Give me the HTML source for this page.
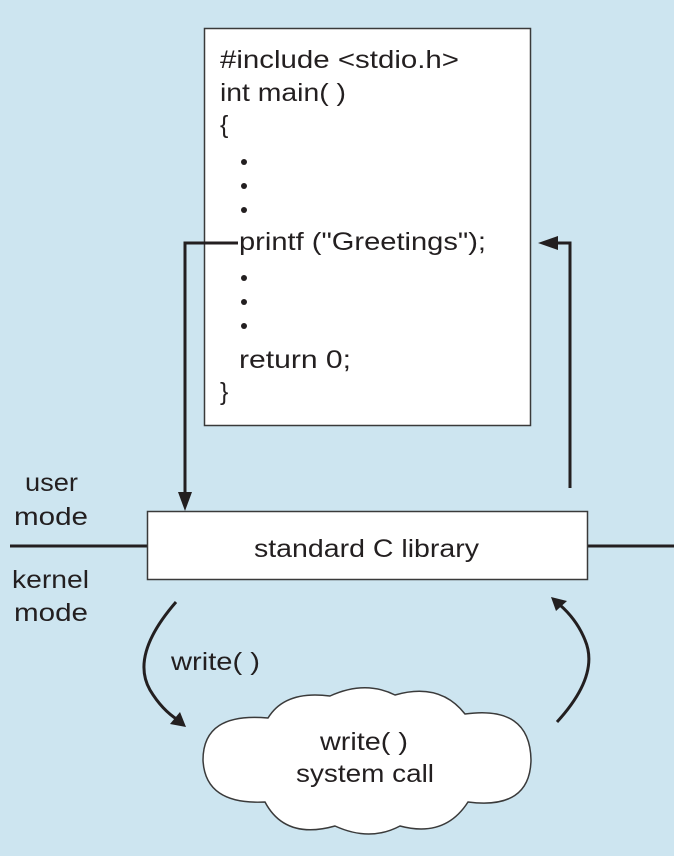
<!DOCTYPE html>
<html><head><meta charset="utf-8"><style>
html,body{margin:0;padding:0;background:#cde5f0;}
svg{display:block;}
text{font-family:"Liberation Sans",sans-serif;fill:#231f20;}
</style></head><body>
<svg width="674" height="856" viewBox="0 0 674 856" xmlns="http://www.w3.org/2000/svg">
<rect x="0" y="0" width="674" height="856" fill="#cde5f0"/>
<!-- code box -->
<rect x="204.5" y="28.5" width="326" height="397" fill="#fff" stroke="#3a3a3a" stroke-width="1.5"/>
<g font-size="25">
<text x="220" y="68" textLength="239" lengthAdjust="spacingAndGlyphs">#include &lt;stdio.h&gt;</text>
<text x="220" y="101" textLength="126" lengthAdjust="spacingAndGlyphs">int main( )</text>
<text x="220" y="133">{</text>
<text x="239" y="250" textLength="247" lengthAdjust="spacingAndGlyphs">printf ("Greetings");</text>
<text x="239" y="368" textLength="112" lengthAdjust="spacingAndGlyphs">return 0;</text>
<text x="220" y="400">}</text>
</g>
<g fill="#231f20">
<circle cx="244" cy="162" r="3"/><circle cx="244" cy="186" r="3"/><circle cx="244" cy="210" r="3"/>
<circle cx="244" cy="278" r="3"/><circle cx="244" cy="302" r="3"/><circle cx="244" cy="326" r="3"/>
</g>
<!-- arrows -->
<path d="M238,243 H185 V494" fill="none" stroke="#231f20" stroke-width="3"/>
<path d="M178,492 L192,492 L185,511 Z" fill="#231f20"/>
<path d="M570,488 V243 H556" fill="none" stroke="#231f20" stroke-width="3"/>
<path d="M558,236 L558,250 L538,243 Z" fill="#231f20"/>
<!-- mode line -->
<line x1="10" y1="546" x2="147" y2="546" stroke="#231f20" stroke-width="3"/>
<line x1="587" y1="546" x2="674" y2="546" stroke="#231f20" stroke-width="3"/>
<rect x="147.5" y="511.5" width="440" height="68" fill="#fff" stroke="#3a3a3a" stroke-width="1.5"/>
<text x="254" y="557" font-size="25" textLength="225" lengthAdjust="spacingAndGlyphs">standard C library</text>
<g font-size="25">
<text x="25" y="491" textLength="53" lengthAdjust="spacingAndGlyphs">user</text>
<text x="14" y="525" textLength="74" lengthAdjust="spacingAndGlyphs">mode</text>
<text x="12" y="588" textLength="77" lengthAdjust="spacingAndGlyphs">kernel</text>
<text x="14" y="621" textLength="74" lengthAdjust="spacingAndGlyphs">mode</text>
<text x="171" y="670" textLength="89" lengthAdjust="spacingAndGlyphs">write( )</text>
</g>
<!-- curved arrows -->
<path d="M176,602 Q130,655 150,690 Q162,710 178,720" fill="none" stroke="#231f20" stroke-width="3"/>
<path d="M170,724 L180,712 L186,727 Z" fill="#231f20"/>
<path d="M557,722 Q600,675 585,640 Q577,620 560,605" fill="none" stroke="#231f20" stroke-width="3"/>
<path d="M551,597 L567,601 L556,611 Z" fill="#231f20"/>
<!-- cloud -->
<path d="M268,718 Q285,690 330,696 Q365,680 395,695 Q440,682 465,714 Q530,705 531,760 Q530,810 468,802 Q445,838 400,826 Q370,842 335,826 Q285,840 265,802 Q205,805 203,760 Q203,712 268,718 Z" fill="#fff" stroke="#3a3a3a" stroke-width="1.5"/>
<g font-size="25">
<text x="320" y="750" textLength="88" lengthAdjust="spacingAndGlyphs">write( )</text>
<text x="296" y="782" textLength="138" lengthAdjust="spacingAndGlyphs">system call</text>
</g>
</svg>
</body></html>
